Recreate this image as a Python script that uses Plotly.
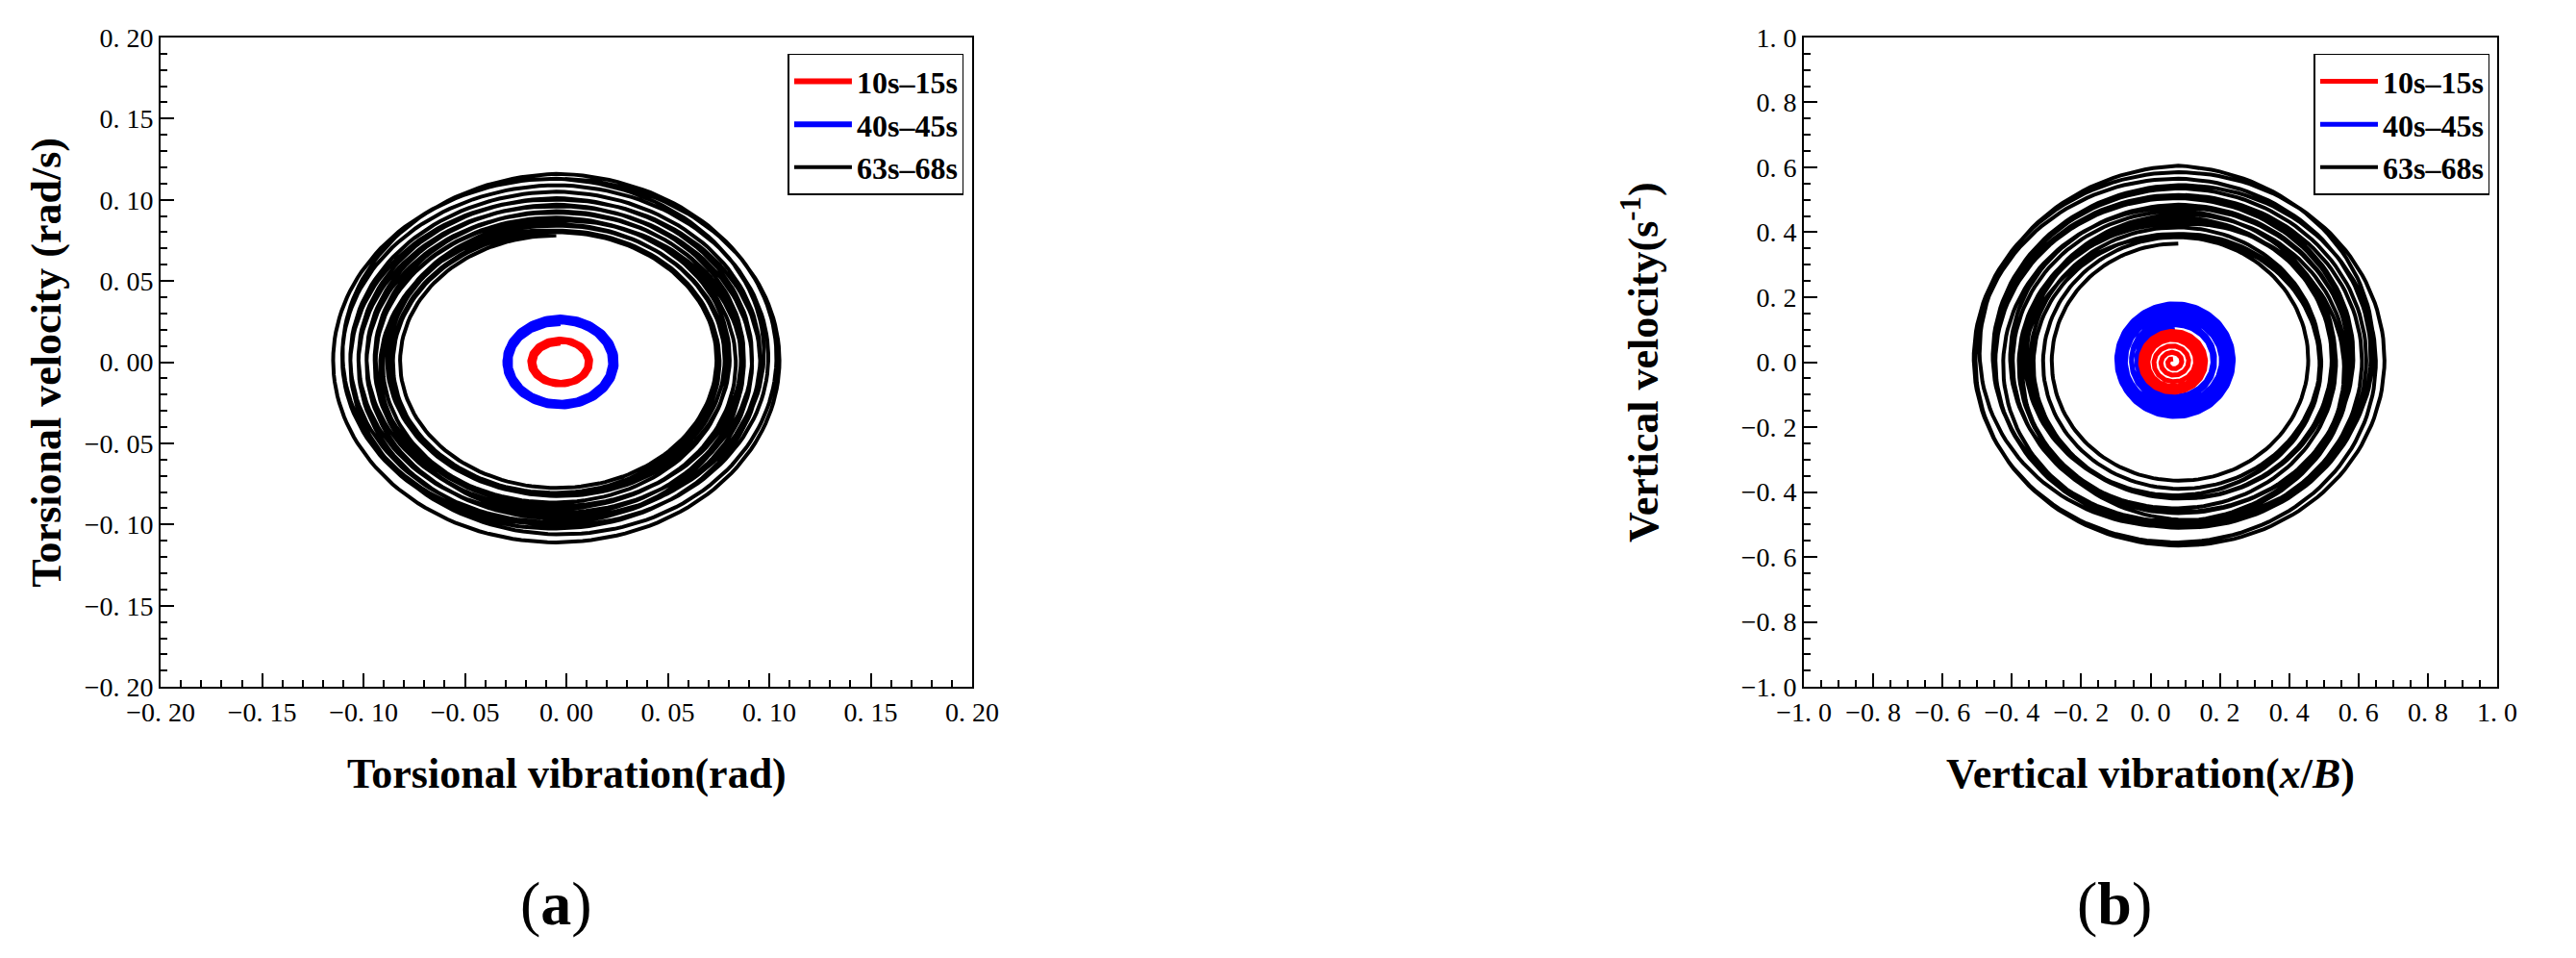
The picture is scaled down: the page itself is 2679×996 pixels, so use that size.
import numpy as np
import plotly.graph_objects as go

# ---- data (loop radii per cycle) ----
series_names = ["10s\u201315s", "40s\u201345s", "63s\u201368s"]
colors = ["#ff0000", "#0000ff", "#000000"]

# panel (a): torsional
a_center = [(-0.003, 0.0), (-0.003, 0.0), (-0.005, 0.001)]
a_rx = [[0.013, 0.014, 0.015, 0.0145, 0.0135],
        [0.025, 0.026, 0.027, 0.0275, 0.026, 0.025],
        [0.076, 0.080, 0.084, 0.078, 0.088, 0.092, 0.082, 0.096, 0.086, 0.100, 0.090, 0.104, 0.094, 0.108, 0.098, 0.112, 0.085, 0.079, 0.110]]
a_ry = [[0.012, 0.0135, 0.014, 0.0135, 0.013],
        [0.024, 0.026, 0.027, 0.0275, 0.026, 0.025],
        [0.077, 0.080, 0.084, 0.079, 0.088, 0.092, 0.083, 0.096, 0.087, 0.100, 0.091, 0.104, 0.095, 0.108, 0.099, 0.115, 0.086, 0.080, 0.112]]

# panel (b): vertical
b_center = [(0.065, 0.0), (0.07, 0.005), (0.08, 0.005)]
b_rx = [[0.01, 0.03, 0.05, 0.07, 0.08, 0.09, 0.095, 0.09, 0.085],
        [0.10, 0.12, 0.14, 0.15, 0.16, 0.165, 0.17, 0.16, 0.15, 0.13, 0.11],
        [0.36, 0.38, 0.42, 0.45, 0.40, 0.47, 0.50, 0.44, 0.52, 0.55, 0.48, 0.58, 0.60, 0.56, 0.46, 0.39, 0.62, 0.43, 0.53]]
b_ry = [[0.01, 0.03, 0.05, 0.07, 0.08, 0.09, 0.095, 0.09, 0.085],
        [0.10, 0.12, 0.14, 0.155, 0.165, 0.17, 0.175, 0.165, 0.15, 0.13, 0.11],
        [0.36, 0.38, 0.41, 0.44, 0.39, 0.46, 0.48, 0.43, 0.50, 0.53, 0.47, 0.56, 0.58, 0.54, 0.45, 0.38, 0.60, 0.42, 0.51]]

a_ticks = [-0.20, -0.15, -0.10, -0.05, 0.00, 0.05, 0.10, 0.15, 0.20]
b_ticks = [-1.0, -0.8, -0.6, -0.4, -0.2, 0.0, 0.2, 0.4, 0.6, 0.8, 1.0]


def loops(center, rx, ry, n=160):
    xs, ys = [], []
    for i in range(len(rx)):
        r0x, r1x = rx[i], rx[min(i + 1, len(rx) - 1)]
        r0y, r1y = ry[i], ry[min(i + 1, len(ry) - 1)]
        t = np.linspace(0, 1, n, endpoint=False)
        th = 2 * np.pi * t + np.pi / 2
        xs.append(center[0] + (r0x + (r1x - r0x) * t) * np.cos(th))
        ys.append(center[1] + (r0y + (r1y - r0y) * t) * np.sin(th))
    return np.concatenate(xs), np.concatenate(ys)


def lab(v, d):
    s = f"{abs(v):.{d}f}".replace(".", ". ")
    return ("\u2212" if v < 0 else "") + s


fig = go.Figure()
for k in [2, 1, 0]:
    x, y = loops(a_center[k], a_rx[k], a_ry[k])
    fig.add_trace(go.Scatter(x=x, y=y, mode="lines", line=dict(color=colors[k], width=[6, 6, 4][k]),
                             name="<b>" + series_names[k] + "</b>", xaxis="x", yaxis="y", legend="legend"))
for k in [2, 1, 0]:
    x, y = loops(b_center[k], b_rx[k], b_ry[k])
    fig.add_trace(go.Scatter(x=x, y=y, mode="lines", line=dict(color=colors[k], width=[5, 5, 4][k]),
                             name="<b>" + series_names[k] + "</b>", xaxis="x2", yaxis="y2", legend="legend2"))

tickfont = dict(family="Liberation Serif", size=28, color="black")
common = dict(showline=True, linecolor="black", linewidth=2, mirror=True, ticks="inside",
              ticklen=14, tickwidth=2, tickcolor="black", showgrid=False, zeroline=False,
              tickfont=tickfont, automargin=False)
ydom = [0.291, 0.969]
mk = lambda d: dict(dtick=d, ticks="inside", ticklen=7, tickwidth=1.5, tickcolor="black")
legfont = dict(family="Liberation Serif", size=32, color="black")
fig.update_layout(
    width=2679, height=996, paper_bgcolor="white", plot_bgcolor="white",
    margin=dict(l=0, r=0, t=0, b=0, autoexpand=False), showlegend=True,
    xaxis=dict(domain=[0.0594, 0.3744], range=[-0.2, 0.2], tickvals=a_ticks,
               ticktext=[lab(v, 2) for v in a_ticks], minor=mk(0.01), **common),
    yaxis=dict(domain=ydom, range=[-0.2, 0.2], tickvals=a_ticks,
               ticktext=[lab(v, 2) for v in a_ticks], minor=mk(0.01), **common),
    xaxis2=dict(domain=[0.6973, 0.9664], range=[-1, 1], tickvals=b_ticks, anchor="y2",
                ticktext=[lab(v, 1) for v in b_ticks], minor=mk(0.05), **common),
    yaxis2=dict(domain=ydom, range=[-1, 1], tickvals=b_ticks, anchor="x2",
                ticktext=[lab(v, 1) for v in b_ticks], minor=mk(0.05), **common),
    legend=dict(x=0.3712, y=0.952, xanchor="right", yanchor="top", bordercolor="black", borderwidth=1.5,
                bgcolor="white", font=legfont, traceorder="reversed", tracegroupgap=0, itemwidth=60),
    legend2=dict(x=0.9636, y=0.952, xanchor="right", yanchor="top", bordercolor="black", borderwidth=1.5,
                 bgcolor="white", font=legfont, traceorder="reversed", tracegroupgap=0, itemwidth=60),
)

tf = dict(family="Liberation Serif", size=44, color="black")
ann = [
    dict(x=0.217, y=0.20, text="<b>Torsional vibration(rad)</b>", textangle=0),
    dict(x=0.015, y=0.63, text="<b>Torsional velocity (rad/s)</b>", textangle=-90),
    dict(x=0.832, y=0.20, text="<b>Vertical vibration(<i>x</i>/<i>B</i>)</b>", textangle=0),
    dict(x=0.634, y=0.63, text="<b>Vertical velocity(s<sup>-1</sup>)</b>", textangle=-90),
]
for a in ann:
    fig.add_annotation(xref="paper", yref="paper", showarrow=False, font=tf,
                       xanchor="center", yanchor="middle", **a)
for x, t in [(0.213, "(<b>a</b>)"), (0.818, "(<b>b</b>)")]:
    fig.add_annotation(xref="paper", yref="paper", x=x, y=0.065, text=t, showarrow=False,
                       xanchor="center", yanchor="middle",
                       font=dict(family="Liberation Serif", size=64, color="black"))

fig.write_html("out.html")
